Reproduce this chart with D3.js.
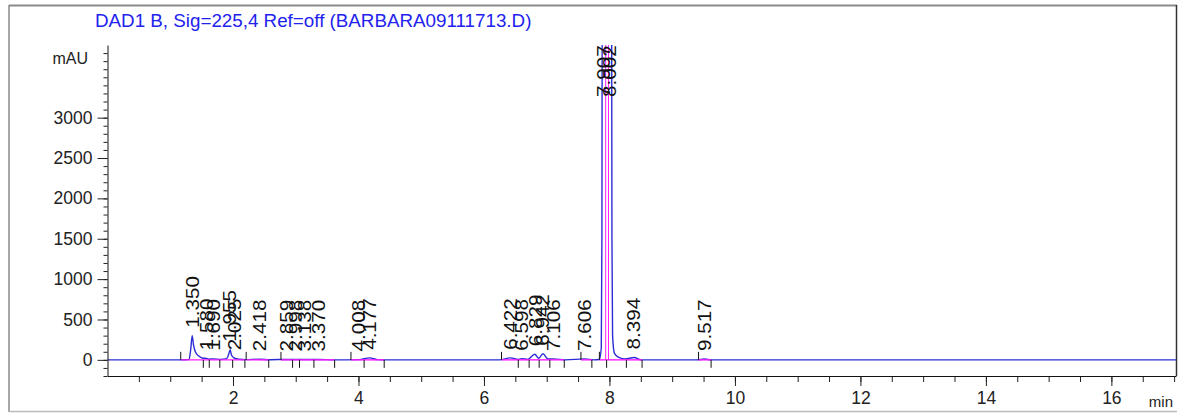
<!DOCTYPE html>
<html><head><meta charset="utf-8">
<script src="https://cdn.jsdelivr.net/npm/d3@7"></script>
<style>
body{margin:0;background:#fff}
svg{display:block}
text{font-family:"Liberation Sans",Arial,sans-serif}
</style>
</head><body>
<svg id="chart" width="1181" height="414"></svg>
<script>
// ---- data ----
const titleText = "DAD1 B, Sig=225,4 Ref=off (BARBARA09111713.D)";
const yUnit = "mAU";
const xUnit = "min";
const yTickLabels = [0, 500, 1000, 1500, 2000, 2500, 3000];
const xTickLabels = [2, 4, 6, 8, 10, 12, 14, 16];

// retention times (labels), apex heights (mAU), integration start / end (min)
const peakTimes   = [1.350, 1.580, 1.690, 1.955, 2.025, 2.418, 2.859, 2.998, 3.138, 3.370, 4.008, 4.177, 6.422, 6.598, 6.829, 6.942, 7.106, 7.606, 7.907, 8.002, 8.394, 9.517];
const peakHeights = [300, 20, 15, 125, 20, 8, 5, 5, 5, 5, 4, 25, 25, 15, 70, 75, 12, 12, 4500, 4500, 30, 10];
const peakStarts  = [1.167, 1.527, 1.622, 1.79, 1.995, 2.21, 2.765, 2.95, 3.06, 3.29, 3.88, 4.09, 6.28, 6.547, 6.72, 6.88, 7.05, 7.546, 7.84, 7.955, 8.27, 9.42];
const peakEnds    = [1.527, 1.622, 1.79, 1.995, 2.19, 2.57, 2.95, 3.06, 3.29, 3.62, 4.09, 4.41, 6.547, 6.72, 6.88, 7.05, 7.28, 7.72, 7.955, 8.27, 8.52, 9.62];
const dropLineTimes = [7.94, 7.985];

// detector signal, [time (min), absorbance (mAU)]
const signalTimes = [0, 1.16, 1.30, 1.325, 1.35, 1.37, 1.40, 1.45, 1.52, 1.58, 1.62, 1.69, 1.80, 1.90, 1.935, 1.955, 1.975, 2.025, 2.10, 2.20, 2.418, 2.60, 2.859, 3.00, 3.138, 3.37, 3.60, 4.008, 4.177, 4.30, 4.45, 6.25, 6.422, 6.55, 6.598, 6.70, 6.81, 6.87, 6.94, 7.02, 7.106, 7.30, 7.606, 7.75, 7.84, 7.87, 7.88, 7.885, 8.035, 8.04, 8.05, 8.08, 8.15, 8.25, 8.394, 8.50, 9.40, 9.517, 9.62, 17.03];
const signalValues = [0, 0, 5, 120, 300, 190, 100, 50, 20, 18, 8, 12, 5, 15, 80, 125, 60, 20, 8, 3, 8, 2, 5, 5, 5, 5, 0, 3, 25, 3, 0, 0, 25, 5, 15, 5, 70, 20, 75, 10, 12, 0, 12, 0, 5, 150, 1500, 4500, 4500, 1500, 300, 80, 30, 10, 30, 0, 0, 10, 0, 0];

// ---- layout ----
const svg = d3.select("#chart");
const plot = {left: 107.5, right: 1176, top: 45, bottom: 376};
const x = d3.scaleLinear().domain([0, 17.03]).range([plot.left, plot.right]);
const y = d3.scaleLinear().domain([-200, 3900]).range([plot.bottom, plot.top]);

const blue = "#2c2cd6", magenta = "#ff1cff", titleBlue = "#2222ee", gray = "#8a8a8a";

// outer frame
svg.append("line").attr("x1", 9).attr("x2", 9).attr("y1", 5).attr("y2", 412).attr("stroke", gray).attr("stroke-width", 1.5);
svg.append("line").attr("x1", 9).attr("x2", 1177).attr("y1", 5.5).attr("y2", 5.5).attr("stroke", gray).attr("stroke-width", 2);
svg.append("line").attr("x1", 9).attr("x2", 1177).attr("y1", 411.5).attr("y2", 411.5).attr("stroke", "#bbb").attr("stroke-width", 1.5);
svg.append("line").attr("x1", 1176.5).attr("x2", 1176.5).attr("y1", 5).attr("y2", plot.bottom).attr("stroke", "#333").attr("stroke-width", 1.5);

// title
svg.append("text").attr("x", 95).attr("y", 27).attr("fill", titleBlue).attr("font-size", 18.8).text(titleText);

// clip
svg.append("clipPath").attr("id", "clip").append("rect")
  .attr("x", plot.left).attr("y", plot.top).attr("width", plot.right - plot.left).attr("height", plot.bottom - plot.top);

const g = svg.append("g").attr("clip-path", "url(#clip)");

// signal
const signal = signalTimes.map((t, i) => [t, signalValues[i]]);
const line = d3.line().x(d => x(d[0])).y(d => y(d[1])).curve(d3.curveMonotoneX);
g.append("path").datum(signal).attr("d", line).attr("fill", "none").attr("stroke", blue).attr("stroke-width", 1.4);

// integration baselines (magenta)
const peaks = peakTimes.map((t, i) => ({t, h: peakHeights[i], s: peakStarts[i], e: peakEnds[i]}));
g.selectAll("line.base").data(peaks).join("line").attr("class", "base")
  .attr("x1", d => x(d.s)).attr("x2", d => x(d.e)).attr("y1", y(0)).attr("y2", y(0))
  .attr("stroke", magenta).attr("stroke-width", 1.4);
g.selectAll("line.drop").data(dropLineTimes).join("line").attr("class", "drop")
  .attr("x1", d => x(d)).attr("x2", d => x(d)).attr("y1", y(0)).attr("y2", y(3900))
  .attr("stroke", magenta).attr("stroke-width", 1);

// peak start / end tick marks
const starts = peaks.filter((d, i) => i === 0 || Math.abs(peaks[i - 1].e - d.s) > 0.001);
svg.selectAll("line.st").data(starts).join("line").attr("class", "st")
  .attr("x1", d => x(d.s)).attr("x2", d => x(d.s)).attr("y1", y(0)).attr("y2", y(0) - 8)
  .attr("stroke", "#111").attr("stroke-width", 1);
svg.selectAll("line.en").data(peaks).join("line").attr("class", "en")
  .attr("x1", d => x(d.e)).attr("x2", d => x(d.e)).attr("y1", y(0)).attr("y2", y(0) + 8)
  .attr("stroke", "#111").attr("stroke-width", 1);

// peak labels
const labelLen = 52;
svg.selectAll("text.pk").data(peaks).join("text").attr("class", "pk")
  .attr("transform", d => {
    let yy = Math.min(y(0), y(d.h)) - 8;
    if (yy - labelLen < plot.top) yy = plot.top + labelLen;
    return `translate(${x(d.t)},${yy}) rotate(-90) scale(1.18,1)`;
  })
  .attr("dy", "0.36em").attr("font-size", 17.5).attr("fill", "#111")
  .text(d => d.t.toFixed(3));

// y axis
const yMinor = d3.range(-200, 3801, 100);
svg.append("g").attr("transform", `translate(${plot.left},0)`)
  .call(d3.axisLeft(y).tickValues(yMinor).tickSize(4).tickFormat(""))
  .call(a => a.select(".domain").remove())
  .selectAll("line").attr("stroke", "#222");
const yAx = svg.append("g").attr("transform", `translate(${plot.left},0)`)
  .call(d3.axisLeft(y).tickValues(yTickLabels).tickSize(10).tickSizeOuter(0).tickPadding(5).tickFormat(d3.format("d")));
yAx.selectAll("text").attr("font-size", 17.5).attr("fill", "#222").attr("font-family", "Liberation Sans, Arial, sans-serif");
yAx.selectAll("line").attr("stroke", "#222");
yAx.select(".domain").attr("stroke", "#111");
svg.append("text").attr("x", 88).attr("y", 58).attr("dy", "0.35em").attr("text-anchor", "end")
  .attr("font-size", 16).attr("fill", "#222").text(yUnit);

// x axis
const xMinor = d3.range(0.5, 17.01, 0.5);
svg.append("g").attr("transform", `translate(0,${plot.bottom})`)
  .call(d3.axisBottom(x).tickValues(xMinor).tickSize(6).tickFormat(""))
  .call(a => a.select(".domain").remove())
  .selectAll("line").attr("stroke", "#222");
const xAx = svg.append("g").attr("transform", `translate(0,${plot.bottom})`)
  .call(d3.axisBottom(x).tickValues(xTickLabels).tickSize(10).tickSizeOuter(0).tickPadding(6).tickFormat(d3.format("d")));
xAx.selectAll("text").attr("font-size", 17.5).attr("fill", "#222").attr("font-family", "Liberation Sans, Arial, sans-serif");
xAx.selectAll("line").attr("stroke", "#222");
xAx.select(".domain").attr("stroke", "#111");
svg.append("text").attr("x", 1173).attr("y", 407).attr("text-anchor", "end")
  .attr("font-size", 15).attr("fill", "#222").text(xUnit);
</script>
</body></html>
